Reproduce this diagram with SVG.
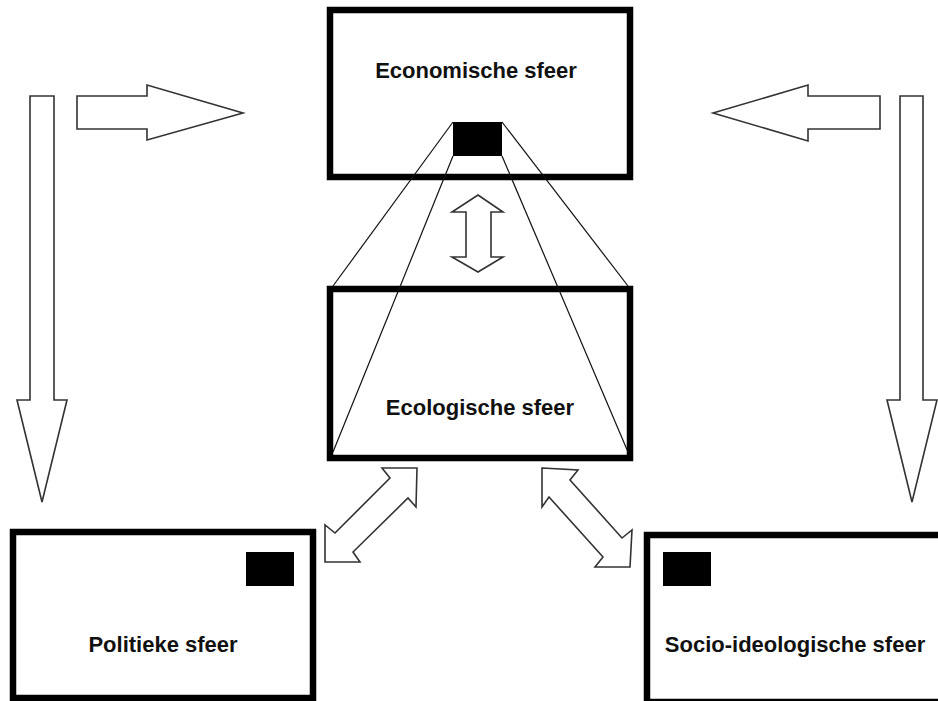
<svg xmlns="http://www.w3.org/2000/svg" width="938" height="701" viewBox="0 0 938 701">
  <style>
    .box { fill: #fff; stroke: #000; stroke-width: 6.5; }
    .mark { fill: #000; }
    .label { font-family: "Liberation Sans", Arial, sans-serif; font-weight: bold; font-size: 22px; fill: #111; text-anchor: middle; }
    .arrow { fill: #fff; stroke: #333; stroke-width: 1.6; stroke-linejoin: miter; }
    .ray { stroke: #111; stroke-width: 1.2; fill: none; }
  </style>
  <rect x="0" y="0" width="938" height="701" fill="#fff"/>

  <g id="economische">
    <rect class="box" x="330" y="10" width="300" height="167"/>
    <text class="label" x="476" y="78">Economische sfeer</text>
    <rect class="mark" x="453" y="122" width="49" height="34"/>
  </g>

  <g id="ecologische">
    <rect class="box" x="330" y="289" width="300" height="169"/>
    <text class="label" x="480" y="415">Ecologische sfeer</text>
  </g>

  <g id="politieke">
    <rect class="box" x="13" y="532" width="300" height="166"/>
    <rect class="mark" x="246" y="552" width="48" height="34"/>
    <text class="label" x="163" y="652">Politieke sfeer</text>
  </g>

  <g id="socio-ideologische">
    <rect class="box" x="647" y="535" width="320" height="167"/>
    <rect class="mark" x="663" y="552" width="48" height="34"/>
    <text class="label" x="795" y="652">Socio-ideologische sfeer</text>
  </g>

  <g id="connectors">
    <line class="ray" x1="453" y1="122" x2="333" y2="286"/>
    <line class="ray" x1="453" y1="156" x2="333" y2="452"/>
    <line class="ray" x1="502" y1="122" x2="628" y2="286"/>
    <line class="ray" x1="502" y1="156" x2="628" y2="452"/>

    <polygon class="arrow" points="77,96 147,96 147,85 243,113 147,140 147,129 77,129"/>
    <polygon class="arrow" points="30,96 54,96 54,400 67,400 42,502 17,400 30,400"/>
    <polygon class="arrow" points="880,96 808,96 808,85 713,113 808,141 808,129 880,129"/>
    <polygon class="arrow" points="900,96 923,96 923,400 937,400 912,502 887,400 900,400"/>

    <polygon class="arrow" points="478,195 503,212 491,212 491,257 503,257 478,272 452,257 466,257 466,212 452,212"/>

    <polygon class="arrow" points="417,468 416,507 408,498 353,552 360,562 325,562 325,525 335,533 390,478 382,468"/>
    <polygon class="arrow" points="542,468 578,470 570,480 622,538 632,530 630,567 595,567 603,557 549,497 542,507"/>
  </g>
</svg>
